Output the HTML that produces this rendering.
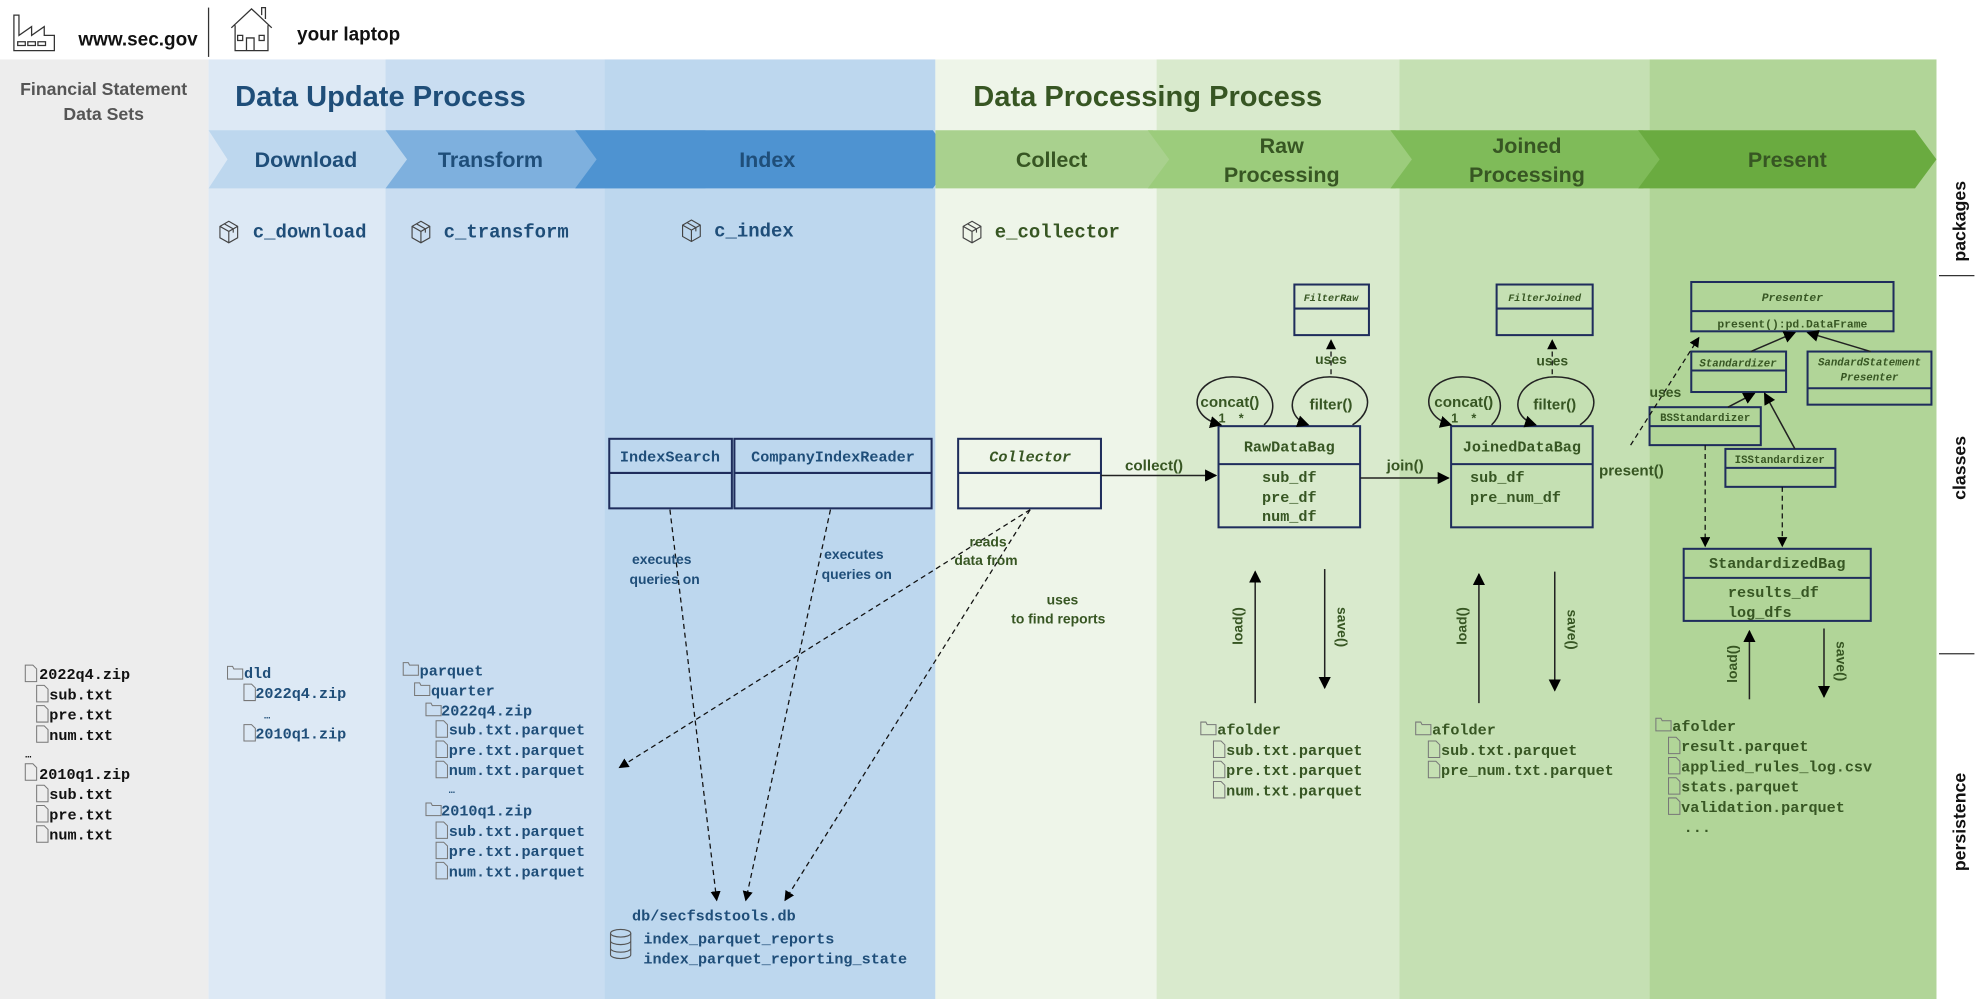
<!DOCTYPE html>
<html><head><meta charset="utf-8"><style>
html,body{margin:0;padding:0;background:#fff;}
svg{display:block;}
.t{font-family:"Liberation Sans Narrow","Liberation Sans",sans-serif;font-weight:bold;}
.m{font-family:"Liberation Mono",monospace;font-weight:bold;}
.b{fill:#1f4e79}.g{fill:#375623}.k{fill:#111}
.box{fill:none;stroke:#1f2d5c;stroke-width:1.6}
.dash{fill:none;stroke:#111;stroke-width:1;stroke-dasharray:4,3}
.sol{fill:none;stroke:#222;stroke-width:1.2}
</style></head><body>
<svg width="1982" height="999" viewBox="0 0 1568 790" preserveAspectRatio="none" xmlns="http://www.w3.org/2000/svg">
<defs>
<marker id="a" viewBox="0 0 10 10" refX="9" refY="5" markerWidth="8" markerHeight="8" orient="auto"><path d="M0,0L10,5L0,10z" fill="#000"/></marker>
<g id="pk"><path d="M0,4L7,0L14,4L14,13L7,17L0,13z M0,4L7,8L14,4 M7,8L7,17 M3.5,2L10.5,6L10.5,9" fill="none" stroke="#444" stroke-width="0.9"/></g>
<g id="fo"><path d="M0,1h4l1,2h7v8h-12z" fill="none" stroke="#777" stroke-width="0.8"/></g>
<g id="fi"><path d="M0,0h6l3,3v10h-9z" fill="none" stroke="#777" stroke-width="0.8"/></g>
</defs>
<!-- background columns -->
<rect x="0" y="47" width="165" height="743" fill="#ededed"/>
<rect x="165" y="47" width="140" height="743" fill="#dde9f5"/>
<rect x="305" y="47" width="173" height="743" fill="#c9ddf1"/>
<rect x="478" y="47" width="262" height="743" fill="#bdd7ee"/>
<rect x="740" y="47" width="175" height="743" fill="#eef5e9"/>
<rect x="915" y="47" width="192" height="743" fill="#d9eacd"/>
<rect x="1107" y="47" width="198" height="743" fill="#c5e0b3"/>
<rect x="1305" y="47" width="227" height="743" fill="#b1d598"/>
<!-- header -->
<g fill="none" stroke="#333" stroke-width="1">
<path d="M11,40V12h4v16l10,-7v7l10,-7v7h8v12z M14,33h6v3h-6z M22,33h6v3h-6z M30,33h6v3h-6z"/>
<path d="M183,22L199,7L215,22 M186,20V40h26V20 M195,40V30h6v10 M188,28h4v4h-4z M205,28h4v4h-4z M207,12v-6h3v9"/>
</g>
<line x1="165" y1="6" x2="165" y2="45" stroke="#333"/>
<text x="62" y="36" class="t k" font-size="15">www.sec.gov</text>
<text x="235" y="32" class="t k" font-size="15">your laptop</text>
<text x="82" y="75" class="t" fill="#555" font-size="14" text-anchor="middle">Financial Statement</text>
<text x="82" y="95" class="t" fill="#555" font-size="14" text-anchor="middle">Data Sets</text>
<text x="186" y="84" class="t b" font-size="23">Data Update Process</text>
<text x="770" y="84" class="t g" font-size="23">Data Processing Process</text>
<!-- chevrons -->
<path d="M165,103H383L400,126L383,149H165L180,126z" fill="#bdd7ee"/>
<path d="M305,103H558L575,126L558,149H305L322,126z" fill="#7eb0de"/>
<path d="M455,103H738L755,126L738,149H455L472,126z" fill="#4e93d1"/>
<path d="M740,103H912L929,126L912,149H740z" fill="#a9d18e"/>
<path d="M908,103H1104L1121,126L1104,149H908L925,126z" fill="#9ccc7c"/>
<path d="M1100,103H1300L1317,126L1300,149H1100L1117,126z" fill="#7fbb59"/>
<path d="M1296,103H1515L1532,126L1515,149H1296L1313,126z" fill="#6aab40"/>
<g class="t" font-size="17" text-anchor="middle">
<text x="242" y="132" class="b">Download</text>
<text x="388" y="132" class="b">Transform</text>
<text x="607" y="132" class="b">Index</text>
<text x="832" y="132" class="g">Collect</text>
<text x="1014" y="121" class="g">Raw</text><text x="1014" y="144" class="g">Processing</text>
<text x="1208" y="121" class="g">Joined</text><text x="1208" y="144" class="g">Processing</text>
<text x="1414" y="132" class="g">Present</text>
</g>
<!-- packages -->
<use href="#pk" x="174" y="175"/><use href="#pk" x="326" y="175"/><use href="#pk" x="540" y="174"/><use href="#pk" x="762" y="175"/>
<g class="m" font-size="15">
<text x="200" y="188" class="b">c_download</text>
<text x="351" y="188" class="b">c_transform</text>
<text x="565" y="187" class="b">c_index</text>
<text x="787" y="188" class="g">e_collector</text>
</g>
<!-- right labels -->
<g class="t k" font-size="14" style="font-family:'Liberation Sans',sans-serif">
<text transform="translate(1555,175) rotate(-90)" text-anchor="middle">packages</text>
<text transform="translate(1555,370) rotate(-90)" text-anchor="middle">classes</text>
<text transform="translate(1555,650) rotate(-90)" text-anchor="middle">persistence</text>
</g>
<line x1="1534" y1="218" x2="1562" y2="218" stroke="#333"/>
<line x1="1534" y1="517" x2="1562" y2="517" stroke="#333"/>
<!-- classes: blue -->
<rect x="482" y="347" width="97" height="55" class="box"/><line x1="482" y1="374" x2="579" y2="374" class="box"/>
<rect x="581" y="347" width="156" height="55" class="box"/><line x1="581" y1="374" x2="737" y2="374" class="box"/>
<text x="530" y="365" class="m b" font-size="12" text-anchor="middle">IndexSearch</text>
<text x="659" y="365" class="m b" font-size="12" text-anchor="middle">CompanyIndexReader</text>
<rect x="758" y="347" width="113" height="55" class="box"/><line x1="758" y1="374" x2="871" y2="374" class="box"/>
<text x="815" y="365" class="m g" font-size="12" font-style="italic" text-anchor="middle">Collector</text>
<!-- dashed from index -->
<path d="M530,403L567,712" class="dash" marker-end="url(#a)"/>
<path d="M657,403L590,712" class="dash" marker-end="url(#a)"/>
<path d="M815,403L490,607" class="dash" marker-end="url(#a)"/>
<path d="M815,403L621,712" class="dash" marker-end="url(#a)"/>
<g class="t b" font-size="11">
<text x="500" y="446">executes</text><text x="498" y="462">queries on</text>
<text x="652" y="442">executes</text><text x="650" y="458">queries on</text>
</g>
<g class="t g" font-size="11">
<text x="767" y="432">reads</text><text x="755" y="447">data from</text>
<text x="828" y="478">uses</text><text x="800" y="493">to find reports</text>
</g>
<!-- Raw -->
<rect x="964" y="337" width="112" height="80" class="box"/><line x1="964" y1="367" x2="1076" y2="367" class="box"/>
<text x="1020" y="357" class="m g" font-size="12" text-anchor="middle">RawDataBag</text>
<g class="m g" font-size="12" text-anchor="middle"><text x="1020" y="381">sub_df</text><text x="1020" y="397">pre_df</text><text x="1020" y="412">num_df</text></g>
<path d="M871,376L962,376" class="sol" marker-end="url(#a)"/>
<text x="890" y="372" class="t g" font-size="12">collect()</text>
<rect x="1024" y="225" width="59" height="40" class="box"/><line x1="1024" y1="244" x2="1083" y2="244" class="box"/>
<text x="1053" y="238" class="m g" font-size="8" font-style="italic" text-anchor="middle">FilterRaw</text>
<path d="M1053,296L1053,269" class="dash" marker-end="url(#a)"/>
<text x="1053" y="288" class="t g" font-size="11" text-anchor="middle">uses</text>
<path d="M1000,336C1015,322 1005,298 975,298C945,298 935,328 966,336" class="sol" marker-end="url(#a)"/>
<path d="M1070,336C1092,322 1082,298 1052,298C1022,298 1012,328 1035,336" class="sol" marker-end="url(#a)"/>
<text x="973" y="322" class="t g" font-size="12" text-anchor="middle">concat()</text>
<text x="1053" y="324" class="t g" font-size="12" text-anchor="middle">filter()</text>
<text x="964" y="334" class="t g" font-size="10">1</text><text x="980" y="334" class="t g" font-size="10">*</text>
<!-- Joined -->
<rect x="1148" y="337" width="112" height="80" class="box"/><line x1="1148" y1="367" x2="1260" y2="367" class="box"/>
<text x="1204" y="357" class="m g" font-size="12" text-anchor="middle">JoinedDataBag</text>
<g class="m g" font-size="12"><text x="1163" y="381">sub_df</text><text x="1163" y="397">pre_num_df</text></g>
<path d="M1076,378L1146,378" class="sol" marker-end="url(#a)"/>
<text x="1097" y="372" class="t g" font-size="12">join()</text>
<rect x="1184" y="225" width="76" height="40" class="box"/><line x1="1184" y1="244" x2="1260" y2="244" class="box"/>
<text x="1222" y="238" class="m g" font-size="8" font-style="italic" text-anchor="middle">FilterJoined</text>
<path d="M1228,296L1228,269" class="dash" marker-end="url(#a)"/>
<text x="1228" y="289" class="t g" font-size="11" text-anchor="middle">uses</text>
<path d="M1180,336C1195,322 1185,298 1157,298C1127,298 1120,328 1148,336" class="sol" marker-end="url(#a)"/>
<path d="M1250,336C1270,322 1262,298 1230,298C1200,298 1190,328 1215,336" class="sol" marker-end="url(#a)"/>
<text x="1158" y="322" class="t g" font-size="12" text-anchor="middle">concat()</text>
<text x="1230" y="324" class="t g" font-size="12" text-anchor="middle">filter()</text>
<text x="1148" y="334" class="t g" font-size="10">1</text><text x="1164" y="334" class="t g" font-size="10">*</text>
<!-- Present -->
<rect x="1338" y="223" width="160" height="39" class="box"/><line x1="1338" y1="246" x2="1498" y2="246" class="box"/>
<text x="1418" y="238" class="m g" font-size="9" font-style="italic" text-anchor="middle">Presenter</text>
<text x="1418" y="259" class="m g" font-size="9" text-anchor="middle">present():pd.DataFrame</text>
<rect x="1338" y="278" width="75" height="32" class="box"/><line x1="1338" y1="293" x2="1413" y2="293" class="box"/>
<text x="1375" y="290" class="m g" font-size="8.5" font-style="italic" text-anchor="middle">Standardizer</text>
<rect x="1430" y="278" width="98" height="42" class="box"/><line x1="1430" y1="307" x2="1528" y2="307" class="box"/>
<text x="1479" y="289" class="m g" font-size="8.5" font-style="italic" text-anchor="middle">SandardStatement</text>
<text x="1479" y="301" class="m g" font-size="8.5" font-style="italic" text-anchor="middle">Presenter</text>
<rect x="1305" y="322" width="88" height="30" class="box"/><line x1="1305" y1="337" x2="1393" y2="337" class="box"/>
<text x="1349" y="333" class="m g" font-size="8.5" text-anchor="middle">BSStandardizer</text>
<rect x="1365" y="355" width="87" height="30" class="box"/><line x1="1365" y1="370" x2="1452" y2="370" class="box"/>
<text x="1408" y="366" class="m g" font-size="8.5" text-anchor="middle">ISStandardizer</text>
<path d="M1385,278L1420,263" class="sol" marker-end="url(#a)"/>
<path d="M1480,278L1430,263" class="sol" marker-end="url(#a)"/>
<path d="M1367,322L1388,311" class="sol" marker-end="url(#a)"/>
<path d="M1420,355L1396,311" class="sol" marker-end="url(#a)"/>
<path d="M1290,352L1344,267" class="dash" marker-end="url(#a)"/>
<text x="1305" y="314" class="t g" font-size="11">uses</text>
<text x="1265" y="376" class="t g" font-size="12">present()</text>
<rect x="1332" y="434" width="148" height="57" class="box"/><line x1="1332" y1="457" x2="1480" y2="457" class="box"/>
<text x="1406" y="449" class="m g" font-size="12" text-anchor="middle">StandardizedBag</text>
<g class="m g" font-size="12"><text x="1367" y="472">results_df</text><text x="1367" y="488">log_dfs</text></g>
<path d="M1349,352L1349,432" class="dash" marker-end="url(#a)"/>
<path d="M1410,385L1410,432" class="dash" marker-end="url(#a)"/>
<!-- load/save -->
<path d="M993,556L993,452" class="sol" marker-end="url(#a)"/><path d="M1048,450L1048,544" class="sol" marker-end="url(#a)"/>
<path d="M1170,556L1170,454" class="sol" marker-end="url(#a)"/><path d="M1230,452L1230,546" class="sol" marker-end="url(#a)"/>
<path d="M1384,553L1384,499" class="sol" marker-end="url(#a)"/><path d="M1443,497L1443,551" class="sol" marker-end="url(#a)"/>
<g class="t g" font-size="11">
<text transform="translate(983,510) rotate(-90)">load()</text>
<text transform="translate(1058,480) rotate(90)">save()</text>
<text transform="translate(1160,510) rotate(-90)">load()</text>
<text transform="translate(1240,482) rotate(90)">save()</text>
<text transform="translate(1374,540) rotate(-90)">load()</text>
<text transform="translate(1453,507) rotate(90)">save()</text>
</g>
<!-- persistence text -->
<g class="m k" font-size="12">
<use href="#fi" x="20" y="526"/><text x="31" y="537">2022q4.zip</text>
<use href="#fi" x="29" y="542"/><text x="39" y="553">sub.txt</text>
<use href="#fi" x="29" y="558"/><text x="39" y="569">pre.txt</text>
<use href="#fi" x="29" y="574"/><text x="39" y="585">num.txt</text>
<text x="20" y="599" font-size="8">…</text>
<use href="#fi" x="20" y="604"/><text x="31" y="616">2010q1.zip</text>
<use href="#fi" x="29" y="621"/><text x="39" y="632">sub.txt</text>
<use href="#fi" x="29" y="637"/><text x="39" y="648">pre.txt</text>
<use href="#fi" x="29" y="653"/><text x="39" y="664">num.txt</text>
</g>
<g class="m b" font-size="12">
<use href="#fo" x="180" y="526"/><text x="193" y="536">dld</text>
<use href="#fi" x="193" y="541"/><text x="202" y="552">2022q4.zip</text>
<text x="209" y="568" font-size="8">…</text>
<use href="#fi" x="193" y="573"/><text x="202" y="584">2010q1.zip</text>
<use href="#fo" x="319" y="523"/><text x="332" y="534">parquet</text>
<use href="#fo" x="328" y="539"/><text x="341" y="550">quarter</text>
<use href="#fo" x="337" y="555"/><text x="349" y="566">2022q4.zip</text>
<use href="#fi" x="345" y="570"/><text x="355" y="581">sub.txt.parquet</text>
<use href="#fi" x="345" y="586"/><text x="355" y="597">pre.txt.parquet</text>
<use href="#fi" x="345" y="602"/><text x="355" y="613">num.txt.parquet</text>
<text x="355" y="627" font-size="8">…</text>
<use href="#fo" x="337" y="634"/><text x="349" y="645">2010q1.zip</text>
<use href="#fi" x="345" y="650"/><text x="355" y="661">sub.txt.parquet</text>
<use href="#fi" x="345" y="666"/><text x="355" y="677">pre.txt.parquet</text>
<use href="#fi" x="345" y="682"/><text x="355" y="693">num.txt.parquet</text>
<text x="500" y="728">db/secfsdstools.db</text>
<text x="509" y="746">index_parquet_reports</text>
<text x="509" y="762">index_parquet_reporting_state</text>
</g>
<g fill="none" stroke="#555" stroke-width="0.9"><ellipse cx="491" cy="738" rx="8" ry="3"/><path d="M483,738v17a8,3 0 0 0 16,0v-17 M483,744a8,3 0 0 0 16,0 M483,750a8,3 0 0 0 16,0"/></g>
<g class="m g" font-size="12">
<use href="#fo" x="950" y="570"/><text x="963" y="581">afolder</text>
<use href="#fi" x="960" y="586"/><text x="970" y="597">sub.txt.parquet</text>
<use href="#fi" x="960" y="602"/><text x="970" y="613">pre.txt.parquet</text>
<use href="#fi" x="960" y="618"/><text x="970" y="629">num.txt.parquet</text>
<use href="#fo" x="1120" y="570"/><text x="1133" y="581">afolder</text>
<use href="#fi" x="1130" y="586"/><text x="1140" y="597">sub.txt.parquet</text>
<use href="#fi" x="1130" y="602"/><text x="1140" y="613">pre_num.txt.parquet</text>
<use href="#fo" x="1310" y="567"/><text x="1323" y="578">afolder</text>
<use href="#fi" x="1320" y="583"/><text x="1330" y="594">result.parquet</text>
<use href="#fi" x="1320" y="599"/><text x="1330" y="610">applied_rules_log.csv</text>
<use href="#fi" x="1320" y="615"/><text x="1330" y="626">stats.parquet</text>
<use href="#fi" x="1320" y="631"/><text x="1330" y="642">validation.parquet</text>
<text x="1332" y="658">...</text>
</g>
</svg>
</body></html>
